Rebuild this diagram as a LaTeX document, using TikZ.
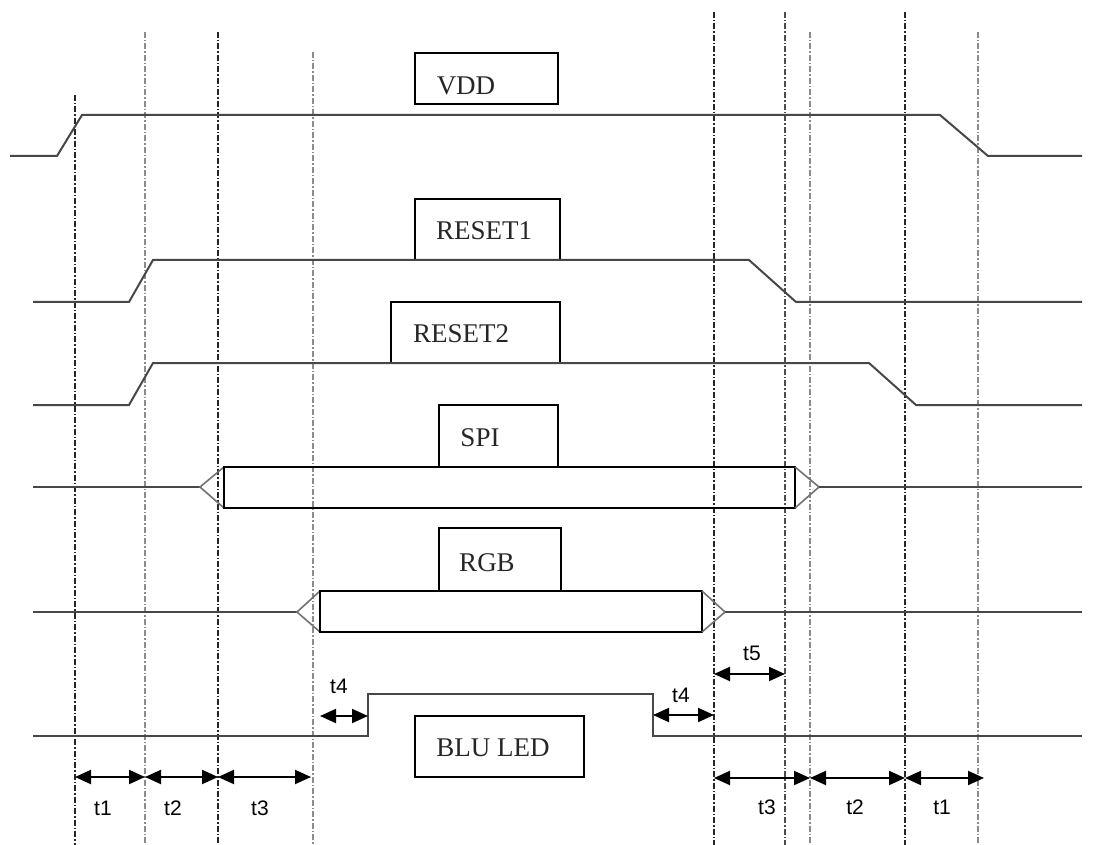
\documentclass[tikz,border=0pt]{standalone}
\usepackage{fontspec}
\setmainfont{Liberation Serif}
\newfontfamily\lblfont{Liberation Sans}
\usetikzlibrary{arrows.meta}
\begin{document}
\begin{tikzpicture}[x=1pt,y=-1pt,
 sig/.style={draw=black!72, line width=2pt, line join=miter},
 busend/.style={draw=black!55, line width=1.6pt},
 boxst/.style={draw=black, line width=2pt, rectangle, inner sep=0pt},
 vguide/.style={line width=1.3pt, dash pattern=on 6pt off 2pt on 1.5pt off 2pt},
 dark/.style={draw=black!85},
 light/.style={draw=black!45},
 dim/.style={line width=2pt, {Triangle[length=16pt,width=14pt]}-{Triangle[length=16pt,width=14pt]}},
 lbl/.style={font=\fontsize{27}{30}\selectfont, inner sep=0pt, text=black!85},
 tl/.style={font=\lblfont\fontsize{21}{24}\selectfont, inner sep=0pt}
]
\useasboundingbox (0,0) rectangle (1104,845);
\fill[white] (0,0) rectangle (1104,845);

% vertical guides
\draw[vguide,dark]  (75,95)  -- (75,845);
\draw[vguide,light] (145,32) -- (145,845);
\draw[vguide,dark]  (218,32) -- (218,845);
\draw[vguide,light] (313,52) -- (313,845);
\draw[vguide,dark]  (714,12) -- (714,845);
\draw[vguide,black!70] (785,12) -- (785,845);
\draw[vguide,light] (810,32) -- (810,845);
\draw[vguide,dark]  (905,12) -- (905,845);
\draw[vguide,light] (978,32) -- (978,845);

% label boxes
\node[boxst, minimum width=143pt, minimum height=51pt] (vddbox) at (486.5,78.5) {};
\node[boxst, minimum width=145pt, minimum height=61pt] (r1box) at (487.5,229.5) {};
\node[boxst, minimum width=169pt, minimum height=61pt] (r2box) at (475.5,332.5) {};
\node[boxst, minimum width=119pt, minimum height=62pt] (spibox) at (498.5,436) {};
\node[boxst, minimum width=122pt, minimum height=63pt] (rgbbox) at (500,559.5) {};
\node[boxst, minimum width=169pt, minimum height=61pt] (blubox) at (499.5,746.5) {};

\node[lbl] (vddt) at (466,86) {VDD};
\node[lbl] (r1t) at (484,231) {RESET1};
\node[lbl] (r2t) at (461,334) {RESET2};
\node[lbl] (spit) at (480,438) {SPI};
\node[lbl] (rgbt) at (487,563) {RGB};
\node[lbl] (blut) at (493,748) {BLU LED};

% signals
\draw[sig] (10,156) -- (57,156) -- (82,115) -- (940,115) -- (988,156) -- (1082,156);
\draw[sig] (33,302) -- (129,302) -- (153,260) -- (749,260) -- (796,302) -- (1082,302);
\draw[sig] (33,405) -- (129,405) -- (153,363) -- (869,363) -- (916,405) -- (1082,405);

% SPI bus
\draw[sig] (33,487) -- (200,487);
\draw[busend] (224,467) -- (200,487) -- (224,508);
\draw[boxst] (224,467) rectangle (795,508);
\draw[busend] (795,467) -- (819,487) -- (795,508);
\draw[sig] (819,487) -- (1082,487);

% RGB bus
\draw[sig] (33,612) -- (297,612);
\draw[busend] (320,591) -- (297,612) -- (320,632);
\draw[boxst] (320,591) rectangle (702,632);
\draw[busend] (702,591) -- (725,612) -- (702,632);
\draw[sig] (725,612) -- (1082,612);

% BLU LED
\draw[sig] (33,736) -- (368,736) -- (368,694) -- (653,694) -- (653,736) -- (1082,736);

% timing arrows
\draw[dim] (320,716) -- (368,716);
\node[tl] (t4a) at (339,686) {t4};
\draw[dim] (653,715) -- (714,715);
\node[tl] (t4b) at (681,695) {t4};
\draw[dim] (714,674) -- (785,674);
\node[tl] (t5) at (752,653) {t5};

\draw[dim] (75,777) -- (145,777);
\draw[dim] (145,777) -- (218,777);
\draw[dim] (218,777) -- (311,777);
\node[tl] (t1a) at (103,808) {t1};
\node[tl] (t2a) at (173,808) {t2};
\node[tl] (t3a) at (260,808) {t3};

\draw[dim] (714,778) -- (810,778);
\draw[dim] (810,778) -- (905,778);
\draw[dim] (905,778) -- (984,778);
\node[tl] (t3b) at (767,807) {t3};
\node[tl] (t2b) at (855,807) {t2};
\node[tl] (t1b) at (942,807) {t1};
\end{tikzpicture}
\end{document}
